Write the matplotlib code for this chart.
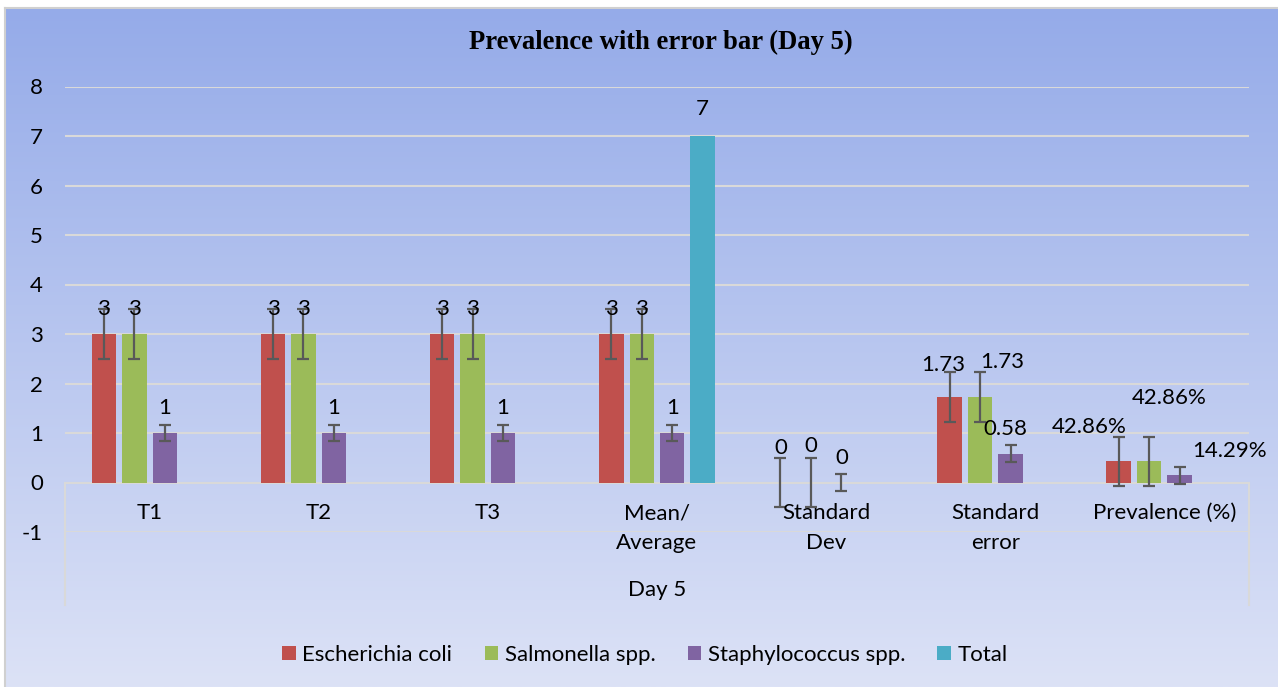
import numpy as np
import matplotlib
matplotlib.use("Agg")
import matplotlib.pyplot as plt
from matplotlib.patches import Patch
from matplotlib.lines import Line2D

# ---------------- data ----------------
categories = ["T1", "T2", "T3", "Mean/\nAverage", "Standard\nDev", "Standard\nerror", "Prevalence (%)"]
group_label = "Day 5"
series_names = ["Escherichia coli", "Salmonella spp.", "Staphylococcus spp.", "Total"]
ecoli = [3, 3, 3, 3, 0, 1.73, 0.4286]
salmonella = [3, 3, 3, 3, 0, 1.73, 0.4286]
staph = [1, 1, 1, 1, 0, 0.58, 0.1429]
total = [np.nan, np.nan, np.nan, 7, np.nan, np.nan, np.nan]
ecoli_err = [0.5, 0.5, 0.5, 0.5, 0.5, 0.5, 0.5]
salmonella_err = [0.5, 0.5, 0.5, 0.5, 0.5, 0.5, 0.5]
staph_err = [0.17, 0.17, 0.17, 0.17, 0.17, 0.17, 0.17]
yticks = [-1, 0, 1, 2, 3, 4, 5, 6, 7, 8]
title = "Prevalence with error bar (Day 5)"

colors = ["#C0504D", "#9BBB59", "#8064A2", "#4BACC6"]

W, H = 1278, 687
fig = plt.figure(figsize=(W / 100, H / 100), dpi=100)
fig.patch.set_facecolor("white")

# background gradient
bg = fig.add_axes([5 / W, 0, 1 - 5 / W, 1 - 8 / H], zorder=-10)
top_c = np.array([149, 171, 233]) / 255
bot_c = np.array([220, 226, 246]) / 255
t = np.linspace(0, 1, 256)[:, None]
grad = top_c[None, :] * (1 - t) + bot_c[None, :] * t
bg.imshow(grad[:, None, :], aspect="auto", extent=[0, 1, 0, 1])
bg.set_axis_off()
fig.add_artist(Line2D([4.5 / W, 4.5 / W], [0, 1 - 7.5 / H], color="#d0d0d0", lw=1.5))
fig.add_artist(Line2D([4.5 / W, 1], [1 - 7.5 / H, 1 - 7.5 / H], color="#d0d0d0", lw=1.5))

FONT = "Lato"
FS = 16

# plot axes: x from 65 to 1249 px, y from -1 (532px) to 8 (86.5px)
left, right = 65, 1249
ytop, ybot = 86.5, 532
ax = fig.add_axes([left / W, 1 - ybot / H, (right - left) / W, (ybot - ytop) / H])
ax.set_facecolor("none")
ax.set_xlim(-0.5, len(categories) - 0.5)
ax.set_ylim(-1, 8)
for s in ax.spines.values():
    s.set_visible(False)
ax.set_yticks(yticks)
ax.set_yticklabels([str(v) for v in yticks], fontsize=FS, family=FONT)
ax.tick_params(axis="y", length=0, pad=16)
ax.set_xticks([])
ax.grid(axis="y", color="#d9d9d9", lw=1.5, zorder=0)
ax.set_axisbelow(True)

# category box vertical lines
y_box_bottom = -(605 - 482.5) / 49.5
for xv in [-0.5, len(categories) - 0.5]:
    ax.plot([xv, xv], [0, y_box_bottom], color="#d9d9d9", lw=1.5, clip_on=False, zorder=1)

pitch = 0.18
bw = 0.145
x = np.arange(len(categories))
series = [ecoli, salmonella, staph, total]
errs = [ecoli_err, salmonella_err, staph_err, None]
for k, (vals, err, c, name) in enumerate(zip(series, errs, colors, series_names)):
    xs = x + (k - 1.5) * pitch
    ax.bar(xs, vals, width=bw, color=c, edgecolor="none", linewidth=0, zorder=2, label=name)
    if err is not None:
        ax.errorbar(xs, vals, yerr=err, fmt="none", ecolor="#595959", elinewidth=1.6,
                    capsize=4.3, capthick=1.6, zorder=3)

# data label offsets in pixels (dx, dy) by series & category
offs = {
    0: [(0, 25)] * 4 + [(0, 34), (-6, 32), (-30, 34)],
    1: [(0, 25)] * 4 + [(0, 36), (22, 35), (20, 63)],
    2: [(0, 25)] * 4 + [(0, 25), (-5, 25), (50, 24)],
    3: [(0, 27)] * 7,
}
for k, vals in enumerate(series):
    for i, v in enumerate(vals):
        if np.isnan(v):
            continue
        if i == len(categories) - 1:
            txt = f"{v * 100:.2f}%"
        else:
            txt = f"{round(v, 2):g}"
        dx, dy = offs[k][i]
        ax.annotate(txt, (x[i] + (k - 1.5) * pitch, v), xytext=(dx * 0.72, dy * 0.72),
                    textcoords="offset points", ha="center", va="center",
                    fontsize=FS, family=FONT, color="black", zorder=5)

# category labels
y1 = -(513 - 482.5) / 49.5
y2 = -(543 - 482.5) / 49.5
for i, lab in enumerate(categories):
    parts = lab.split("\n")
    for j, p in enumerate(parts):
        ax.text(x[i], [y1, y2][j], p, ha="center", va="center", fontsize=FS, family=FONT,
                color="black", clip_on=False)
ax.text((len(categories) - 1) / 2, -(590 - 482.5) / 49.5, group_label, ha="center", va="center",
        fontsize=FS, family=FONT, color="black", clip_on=False)

# title
fig.text(661 / W, 1 - 42 / H, title, ha="center", va="center", fontsize=19.2,
         family="Liberation Serif", fontweight="bold", color="black")

# legend
handles = [Patch(facecolor=c, edgecolor="none", label=n) for c, n in zip(colors, series_names)]
leg = fig.legend(handles=handles, loc="center", bbox_to_anchor=(645 / W, 1 - 655 / H), ncol=4,
                 frameon=False, prop={"family": FONT, "size": FS}, handlelength=0.62,
                 handleheight=0.62, handletextpad=0.28, columnspacing=1.45)

fig.savefig("out.png", dpi=100)
